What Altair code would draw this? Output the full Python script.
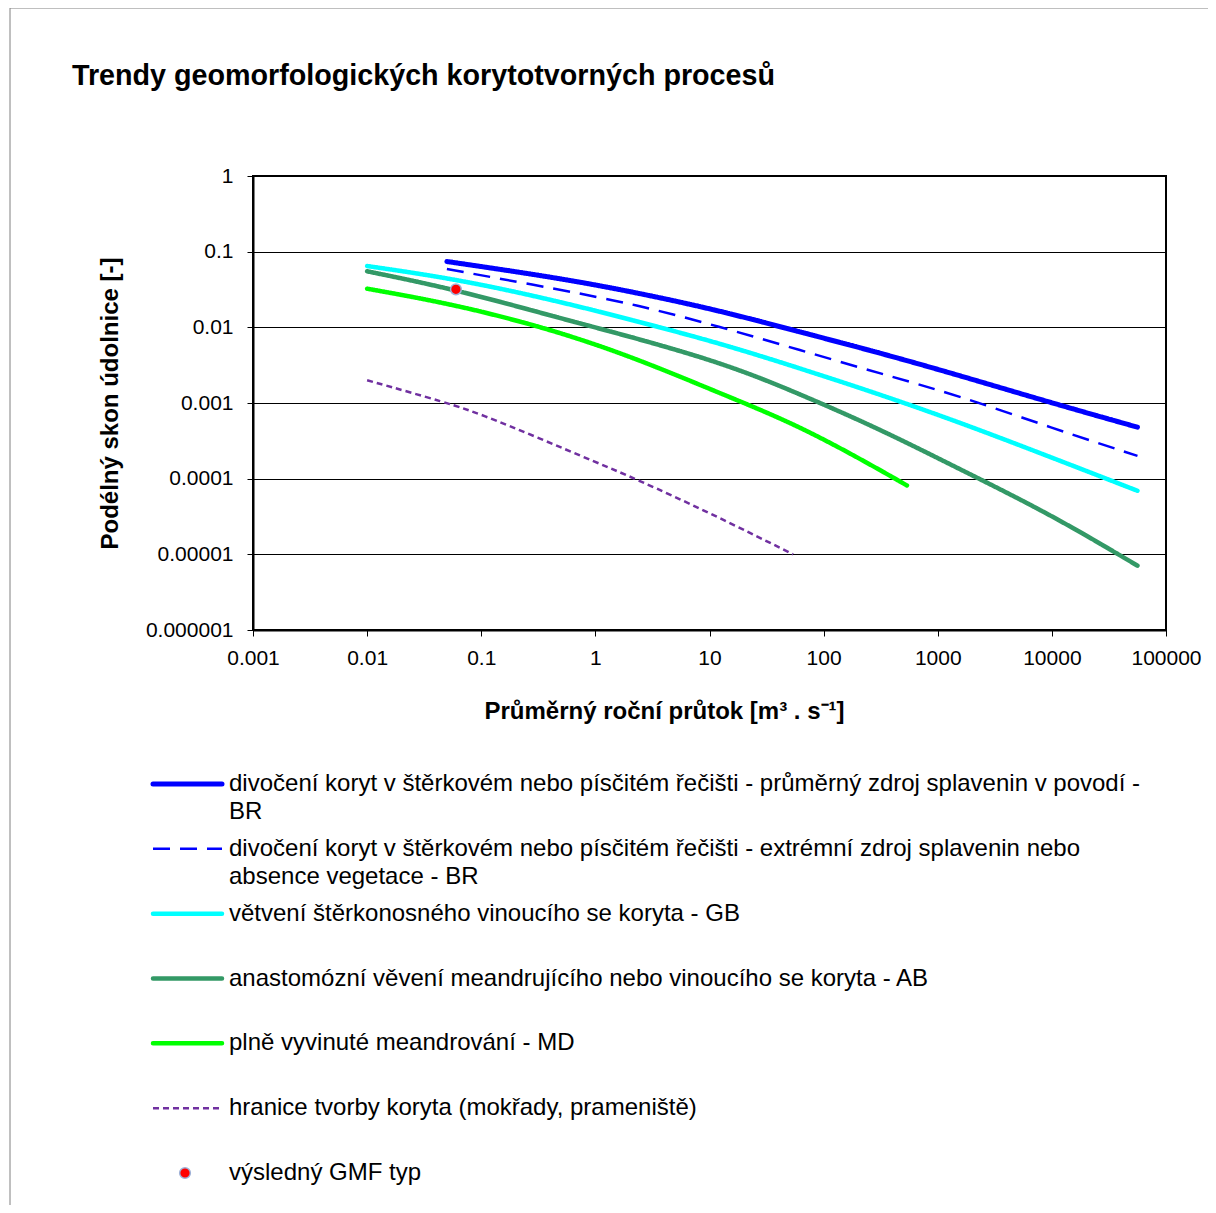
import altair as alt
import pandas as pd

FONT = "Liberation Sans"
W, H = 913, 454

# ---- series ----
keys = ["BR_avg", "BR_ext", "GB", "AB", "MD", "LIM"]
labels = [
    "divočení koryt v štěrkovém nebo písčitém řečišti - průměrný zdroj splavenin v povodí -\nBR",
    "divočení koryt v štěrkovém nebo písčitém řečišti - extrémní zdroj splavenin nebo\nabsence vegetace - BR",
    "větvení štěrkonosného vinoucího se koryta - GB",
    "anastomózní věvení meandrujícího nebo vinoucího se koryta - AB",
    "plně vyvinuté meandrování - MD",
    "hranice tvorby koryta (mokřady, prameniště)",
]
point_label = "výsledný GMF typ"
title_text = "Trendy geomorfologických korytotvorných procesů"

br_avg_x = [0.05, 0.49, 2.45, 12.3, 61.7, 316, 1585, 10000, 56234]
br_avg_y = [0.0741, 0.0447, 0.0282, 0.0166, 0.0087, 0.00457, 0.00229, 0.0010, 0.000479]

br_ext_x = [0.05, 0.49, 2.45, 12.3, 61.7, 316, 1585, 10000, 56234]
br_ext_y = [0.0589, 0.0316, 0.0195, 0.0102, 0.00501, 0.00245, 0.00123, 0.000468, 0.000200]

gb_x = [0.01, 0.065, 0.49, 2.45, 12.3, 61.7, 316, 1585, 10000, 56234]
gb_y = [0.0646, 0.0427, 0.0219, 0.01175, 0.00617, 0.00288, 0.00129, 0.00055, 0.00019, 0.0000692]

ab_x = [0.01, 0.06, 0.49, 1.0, 12.3, 61.7, 316, 1585, 10000, 56234]
ab_y = [0.055, 0.0316, 0.0132, 0.0100, 0.00355, 0.00132, 0.000447, 0.000132, 0.0000331, 0.00000708]

md_x = [0.01, 0.065, 0.49, 2.45, 12.3, 61.7, 316, 537]
md_y = [0.0324, 0.0195, 0.0087, 0.00372, 0.00135, 0.000501, 0.000129, 0.0000813]

lim_x = [0.01, 0.051, 0.1, 0.316, 1, 2.24, 10, 54]
lim_y = [0.002, 0.001, 0.000708, 0.000347, 0.000166, 0.0001, 0.0000355, 0.00001]

result_x = [0.06]
result_y = [0.0318]

x_ticks = [0.001, 0.01, 0.1, 1, 10, 100, 1000, 10000, 100000]
y_ticks = [0.000001, 0.00001, 0.0001, 0.001, 0.01, 0.1, 1]

styles = {
    "BR_avg": dict(color="#0000FF", strokeWidth=5, strokeDash=[1, 0], strokeCap="round"),
    "BR_ext": dict(color="#0000FF", strokeWidth=2.5, strokeDash=[17, 10], strokeCap="butt"),
    "GB": dict(color="#00FFFF", strokeWidth=4.5, strokeDash=[1, 0], strokeCap="round"),
    "AB": dict(color="#339966", strokeWidth=4.5, strokeDash=[1, 0], strokeCap="round"),
    "MD": dict(color="#00FF00", strokeWidth=4.5, strokeDash=[1, 0], strokeCap="round"),
    "LIM": dict(color="#7030A0", strokeWidth=2.5, strokeDash=[6, 4], strokeCap="butt"),
}

series_x = [br_avg_x, br_ext_x, gb_x, ab_x, md_x, lim_x]
series_y = [br_avg_y, br_ext_y, gb_y, ab_y, md_y, lim_y]

x_scale = alt.Scale(type="log", domain=[0.001, 100000], nice=False)
y_scale = alt.Scale(type="log", domain=[0.000001, 1], nice=False)
leg_scale = alt.Scale(domain=[0, 6], range=[608, 997])

x_axis = alt.Axis(
    values=x_ticks, format="~f", grid=False, labelFlush=False, labelOverlap=False,
    title="Průměrný roční průtok [m³ . s⁻¹]", titleX=411, titleY=81,
    titleAlign="center", titleBaseline="middle",
)
y_axis = alt.Axis(
    values=y_ticks, format="~f", grid=True, labelFlush=False, labelOverlap=False,
    title="Podélný skon údolnice [-]", titleX=-143, titleY=227,
    titleAlign="center", titleBaseline="middle", titleAngle=-90,
)

main_layers = []
legend_layers = []
for n, (k, xs, ys) in enumerate(zip(keys, series_x, series_y)):
    df = pd.DataFrame({"q": xs, "s": ys, "i": list(range(len(xs)))})
    st = styles[k]
    main_layers.append(
        alt.Chart(df).mark_line(interpolate="basis", strokeJoin="round", **st).encode(
            x=alt.X("q:Q", scale=x_scale, axis=x_axis),
            y=alt.Y("s:Q", scale=y_scale, axis=y_axis),
            order="i:Q",
        )
    )
    ldf = pd.DataFrame({"row": [n], "label": [labels[n]]})
    legend_layers.append(
        alt.Chart(ldf).mark_rule(**st).encode(
            x=alt.value(-100), x2=alt.value(-31),
            y=alt.Y("row:Q", scale=leg_scale, axis=None),
        )
    )

point_df = pd.DataFrame({"q": result_x, "s": result_y})
main_layers.append(
    alt.Chart(point_df).mark_circle(
        color="#FF0000", opacity=1, stroke="#9FB2D8", strokeWidth=1.5, size=115
    ).encode(
        x=alt.X("q:Q", scale=x_scale, axis=x_axis),
        y=alt.Y("s:Q", scale=y_scale, axis=y_axis),
    )
)
main = alt.layer(*main_layers)

legend_pt_df = pd.DataFrame({"label": [point_label], "row": [len(keys)]})
legend_all_df = pd.DataFrame({"label": labels + [point_label], "row": list(range(len(keys) + 1))})

legend_layers.append(
    alt.Chart(legend_pt_df).mark_circle(
        color="#FF0000", opacity=1, stroke="#9FB2D8", strokeWidth=1.5, size=115
    ).encode(
        x=alt.value(-68),
        y=alt.Y("row:Q", scale=leg_scale, axis=None),
    )
)
legend_layers.append(
    alt.Chart(legend_all_df).mark_text(
        align="left", baseline="top", dy=-12, lineBreak="\n", lineHeight=28,
        fontSize=24, font=FONT, color="#000000",
    ).encode(
        x=alt.value(-24),
        y=alt.Y("row:Q", scale=leg_scale, axis=None),
        text="label:N",
    )
)
legend = alt.layer(*legend_layers)

title = alt.Chart(pd.DataFrame({"t": [title_text]})).mark_text(
    align="left", baseline="alphabetic", fontSize=28.7, fontWeight="bold",
    font=FONT, color="#000000",
).encode(
    x=alt.value(-181), y=alt.value(-91), text="t:N",
)

frame = alt.Chart(pd.DataFrame([{"f": 1}])).mark_rect(
    fillOpacity=0, stroke="#808080", strokeWidth=1
).encode(
    x=alt.value(-243), x2=alt.value(W + 300),
    y=alt.value(-168), y2=alt.value(H + 900),
)

chart = alt.layer(frame, title, main, legend).resolve_scale(y="independent").properties(
    width=W,
    height=H,
    autosize=alt.AutoSizeParams(type="none"),
    padding={"left": 245, "top": 168, "right": 42, "bottom": 575},
).configure(
    font=FONT,
).configure_view(
    stroke="#000000", strokeWidth=2, fill="#FFFFFF",
).configure_axis(
    labelFont=FONT, labelFontSize=21, labelColor="#000000",
    titleFont=FONT, titleFontSize=24, titleFontWeight="bold", titleColor="#000000",
    domainColor="#000000", domainWidth=2,
    tickColor="#000000", tickSize=6, tickWidth=1,
    gridColor="#000000", gridWidth=1, gridOpacity=1,
).configure_axisX(
    labelPadding=11,
).configure_axisY(
    labelPadding=14,
)

chart.save("out.html", embed_options={"renderer": "svg", "actions": False})
